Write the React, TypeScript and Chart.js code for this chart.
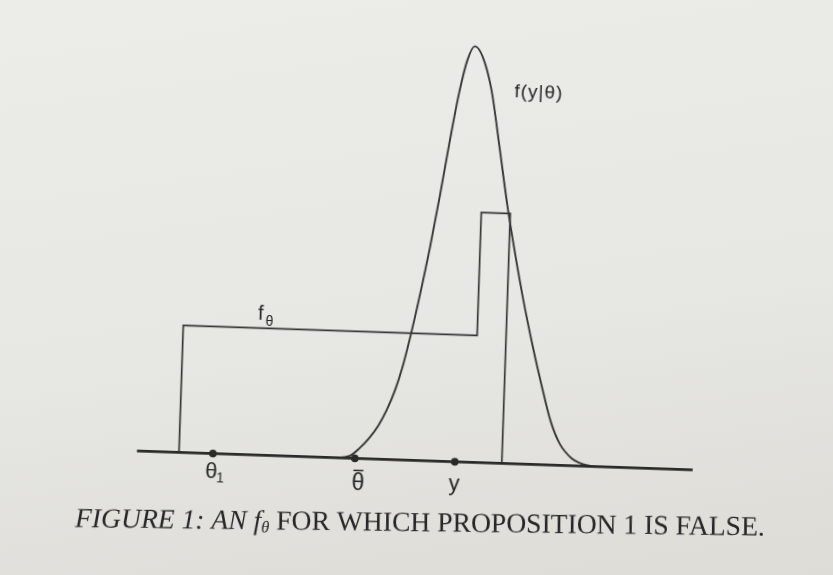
import React, { useEffect, useRef } from "react";
import { Chart, registerables } from "chart.js";

Chart.register(...registerables);

// ---- data (position along the axis, height above it) ----
const axisX = [0, 556];
const axisY = [0, 0];

// f_theta : step density
const stepX = [42, 42, 336, 336, 365, 365];
const stepY = [0, 127, 127, 250, 250, 0];

// f(y|theta) : bell-shaped likelihood
const curveX = [200, 208, 214, 222, 231, 240, 248, 256, 263, 269, 277, 286, 294, 302, 310, 317, 324, 332, 342, 352, 362, 371, 381, 392, 402, 412, 422, 434, 446, 458];
const curveY = [0, 1, 3, 10, 20, 33, 49, 70, 95, 122, 163, 214, 265, 320, 370, 402, 416, 406, 373, 316, 257, 211, 164, 118, 80, 45, 22, 8, 2, 0];

// marked points on the axis: theta_1, theta-bar, y
const markerNames = ["θ1", "θbar", "y"];
const markerX = [76, 218, 318];
const markerY = [0, 0, 0];

const stepLabelAt = [119, 135];
const curveLabelAt = [365, 366];

const CAPTION_A = "FIGURE 1: AN ";
const CAPTION_F = "f";
const CAPTION_SUB = "θ";
const CAPTION_B = " FOR WHICH PROPOSITION 1 IS FALSE.";

const INK = "#262626";
const W = 833;
const H = 575;

const overlay = {
  id: "overlay",
  afterDatasetsDraw(chart: any) {
    const ctx: CanvasRenderingContext2D = chart.ctx;
    const xs = chart.scales.x;
    const ys = chart.scales.y;
    const px = (v: number) => xs.getPixelForValue(v);
    const py = (v: number) => ys.getPixelForValue(v);
    ctx.save();
    ctx.fillStyle = INK;
    ctx.strokeStyle = INK;
    ctx.textBaseline = "alphabetic";
    ctx.textAlign = "center";

    const sans = '"Liberation Sans", Arial, sans-serif';
    const drops = [25, 32, 29];
    const shifts = [-1, 4, 0];
    markerNames.forEach((name, i) => {
      const x = px(markerX[i]) + shifts[i];
      const y = py(markerY[i]) + drops[i];
      if (name === "θ1") {
        ctx.font = "22px " + sans;
        ctx.fillText("θ", x, y);
        ctx.font = "14px " + sans;
        ctx.fillText("1", x + 9, y + 4);
      } else if (name === "θbar") {
        ctx.font = "23px " + sans;
        ctx.fillText("θ", x, y);
        ctx.lineWidth = 1.5;
        ctx.beginPath();
        ctx.moveTo(x - 5, y - 20);
        ctx.lineTo(x + 5, y - 20);
        ctx.stroke();
      } else {
        ctx.font = "22px " + sans;
        ctx.fillText(name, x, y);
      }
    });

    // f_theta label
    ctx.font = "20px " + sans;
    ctx.fillText("f", px(stepLabelAt[0]), py(stepLabelAt[1]));
    ctx.font = "14px " + sans;
    ctx.fillText("θ", px(stepLabelAt[0]) + 9, py(stepLabelAt[1]) + 6);

    // f(y|theta) label
    ctx.textAlign = "left";
    ctx.font = "19px " + sans;
    (ctx as any).letterSpacing = "1px";
    ctx.fillText("f(y|θ)", px(curveLabelAt[0]), py(curveLabelAt[1]));
    (ctx as any).letterSpacing = "0px";

    // caption
    ctx.save();
    ctx.translate(428, 523);
    ctx.rotate((-1.25 * Math.PI) / 180);
    const serif = '"Liberation Serif", "Times New Roman", serif';
    const base = 24;
    const measure = (size: number) => {
      ctx.font = `italic ${size}px ${serif}`;
      const a = ctx.measureText(CAPTION_A).width + ctx.measureText(CAPTION_F).width;
      ctx.font = `italic ${size * 0.6}px ${serif}`;
      const s = ctx.measureText(CAPTION_SUB).width;
      ctx.font = `${size}px ${serif}`;
      const b = ctx.measureText(CAPTION_B).width;
      return a + s + b;
    };
    const target = 690;
    const size = (base * target) / measure(base);
    let cx = -target / 2;
    const by = 8;
    ctx.textAlign = "left";
    ctx.font = `italic ${size}px ${serif}`;
    ctx.fillText(CAPTION_A, cx, by);
    cx += ctx.measureText(CAPTION_A).width;
    ctx.fillText(CAPTION_F, cx, by);
    cx += ctx.measureText(CAPTION_F).width;
    ctx.font = `italic ${size * 0.6}px ${serif}`;
    ctx.fillText(CAPTION_SUB, cx, by + 3);
    cx += ctx.measureText(CAPTION_SUB).width;
    ctx.font = `${size}px ${serif}`;
    ctx.fillText(CAPTION_B, cx, by);
    ctx.restore();

    ctx.restore();
  },
};

export default function App() {
  const ref = useRef<HTMLCanvasElement | null>(null);

  useEffect(() => {
    if (!ref.current) return;
    const toPts = (xs: number[], ys: number[]) => xs.map((x, i) => ({ x, y: ys[i] }));
    const chart = new Chart(ref.current, {
      type: "scatter",
      data: {
        datasets: [
          {
            label: "axis",
            data: toPts(axisX, axisY),
            showLine: true,
            borderColor: "#2a2a2a",
            borderWidth: 2.6,
            pointRadius: 0,
          },
          {
            label: "f_theta",
            data: toPts(stepX, stepY),
            showLine: true,
            borderColor: "#363636",
            borderWidth: 1.7,
            pointRadius: 0,
            tension: 0,
          },
          {
            label: "f(y|theta)",
            data: toPts(curveX, curveY),
            showLine: true,
            borderColor: "#363636",
            borderWidth: 1.9,
            pointRadius: 0,
            cubicInterpolationMode: "monotone",
          },
          {
            label: "points",
            data: toPts(markerX, markerY),
            showLine: false,
            pointRadius: 3.8,
            pointBackgroundColor: "#2a2a2a",
            pointBorderColor: "#2a2a2a",
            pointBorderWidth: 0,
          },
        ],
      },
      options: {
        animation: false,
        responsive: false,
        devicePixelRatio: 1,
        layout: { padding: 0, autoPadding: false },
        plugins: { legend: { display: false }, tooltip: { enabled: false }, title: { display: false } },
        events: [],
        scales: {
          x: { type: "linear", min: -142.7, max: 690.3, display: false },
          y: { type: "linear", min: -114.6, max: 460.4, display: false },
        },
      },
      plugins: [overlay],
    } as any);
    return () => chart.destroy();
  }, []);

  return (
    <div
      style={{
        position: "fixed",
        left: 0,
        top: 0,
        width: W,
        height: H,
        overflow: "hidden",
        background: "linear-gradient(172deg, #ecece9 0%, #e7e7e3 55%, #dddcd7 100%)",
      }}
    >
      <canvas
        ref={ref}
        width={W}
        height={H}
        style={{
          position: "absolute",
          left: 0,
          top: 0,
          width: W,
          height: H,
          transform: "rotate(1.95deg)",
          transformOrigin: "50% 50%",
        }}
      />
    </div>
  );
}
